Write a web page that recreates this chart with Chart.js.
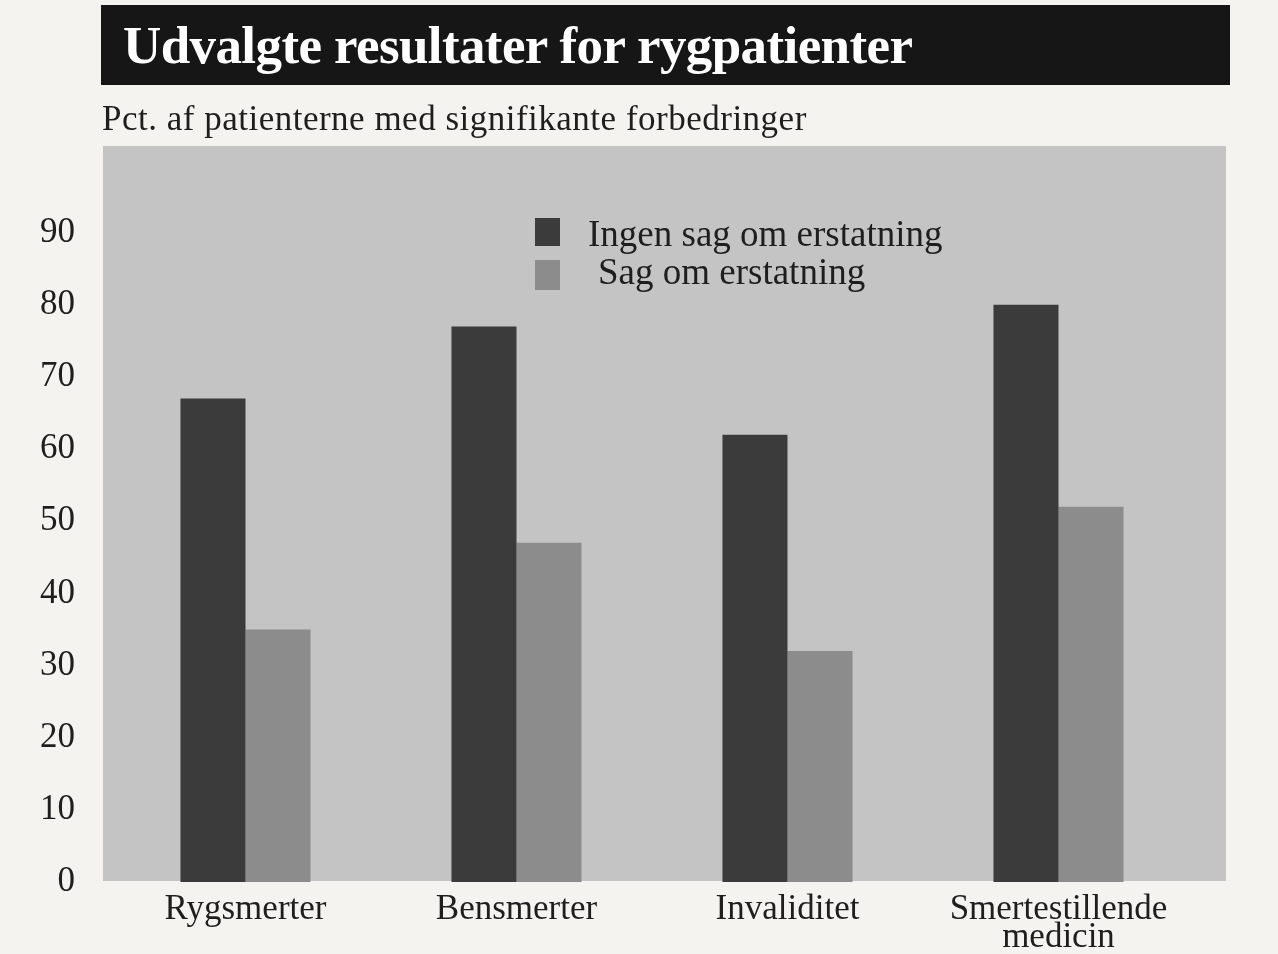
<!DOCTYPE html>
<html>
<head>
<meta charset="utf-8">
<script src="https://cdn.jsdelivr.net/npm/chart.js@4"></script>
<style>
  body { margin: 0; background: #f5f3ef; font-family: "Liberation Serif", serif; }
  #wrap { position: relative; width: 1278px; height: 954px; overflow: hidden; }
  #chart { position: absolute; left: 0; top: 0; }
  #title {
    position: absolute; left: 101px; top: 5px; width: 1129px; height: 80px;
    background: #161616; color: #fff; font-weight: bold; font-size: 53px;
    letter-spacing: -0.6px; line-height: 80px; padding-left: 22px; box-sizing: border-box;
  }
  #subtitle { position: absolute; left: 102px; top: 99px; font-size: 35px; line-height: 40px;
    letter-spacing: 0.5px; color: #1e1e1e; white-space: nowrap; }
  .leg { position: absolute; font-size: 37px; color: #1e1e1e; line-height: 36px; white-space: nowrap; }
  .sw { position: absolute; width: 25px; }
</style>
</head>
<body>
<div id="wrap">
  <canvas id="chart" width="1278" height="954"></canvas>
  <div id="title">Udvalgte resultater for rygpatienter</div>
  <div id="subtitle">Pct. af patienterne med signifikante forbedringer</div>
  <div class="sw" style="left:535px;top:218px;height:28px;background:#3b3b3b"></div>
  <div class="leg" style="left:588px;top:216px">Ingen sag om erstatning</div>
  <div class="sw" style="left:535px;top:260px;height:30px;background:#8c8c8c"></div>
  <div class="leg" style="left:598px;top:254px">Sag om erstatning</div>
</div>
<script>
const categories = ['Rygsmerter', 'Bensmerter', 'Invaliditet', ['Smertestillende', 'medicin']];
const seriesNames = ['Ingen sag om erstatning', 'Sag om erstatning'];
const ingenSag = [67, 77, 62, 80];
const medSag = [35, 47, 32, 52];
const yTicks = [0, 10, 20, 30, 40, 50, 60, 70, 80, 90];

// grey panel reaches a little past the bars' category band on both sides
const plotBackground = {
    id: 'plotBackground',
    beforeDraw(chart) {
        const { ctx, chartArea: a } = chart;
        ctx.save();
        ctx.fillStyle = '#c4c4c4';
        ctx.fillRect(a.left - 7, a.top, a.right - a.left + 39, a.bottom - a.top - 1);
        ctx.restore();
    }
};

const ctx = document.getElementById('chart').getContext('2d');
new Chart(ctx, {
    type: 'bar',
    data: {
        labels: categories,
        datasets: [
            { label: seriesNames[0], data: ingenSag, backgroundColor: '#3b3b3b' },
            { label: seriesNames[1], data: medSag, backgroundColor: '#8c8c8c' }
        ]
    },
    options: {
        responsive: false,
        animation: false,
        layout: { padding: { top: 146, right: 84, left: 0, bottom: 0 } },
        datasets: { bar: { barPercentage: 1, categoryPercentage: 0.48 } },
        plugins: { legend: { display: false }, tooltip: { enabled: false } },
        scales: {
            x: {
                grid: { display: false, drawTicks: false },
                border: { display: false },
                ticks: {
                    color: '#1e1e1e', padding: 13, maxRotation: 0, autoSkip: false,
                    font: { family: 'Liberation Serif', size: 35, lineHeight: 0.82 }
                },
                afterFit: s => { s.height = 72; }
            },
            y: {
                min: 0, max: 102,
                grid: { display: false, drawTicks: false },
                border: { display: false },
                afterBuildTicks: s => { s.ticks = yTicks.map(v => ({ value: v })); },
                ticks: {
                    color: '#1e1e1e', padding: 35,
                    font: { family: 'Liberation Serif', size: 35 }
                },
                afterFit: s => { s.width = 110; }
            }
        }
    },
    plugins: [plotBackground]
});
</script>
</body>
</html>
